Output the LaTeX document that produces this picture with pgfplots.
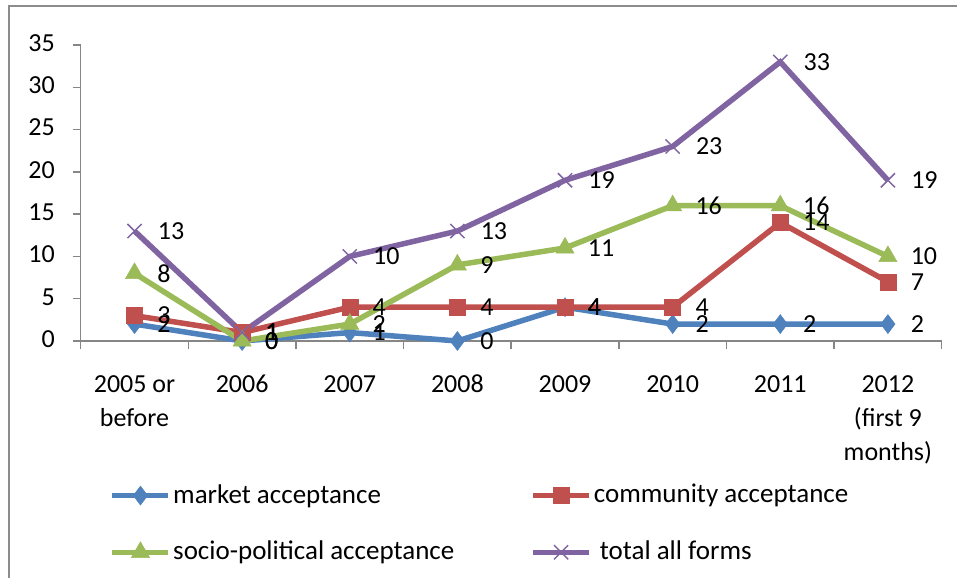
\documentclass[border=0pt]{standalone}
\usepackage{pgfplots}
\pgfplotsset{compat=1.18}
\usepackage{fontspec}
\setmainfont{Carlito}
\definecolor{cblue}{HTML}{4F81BD}
\definecolor{cred}{HTML}{C0504D}
\definecolor{cgreen}{HTML}{9BBB59}
\definecolor{cpurple}{HTML}{8064A2}
\definecolor{axgray}{HTML}{868686}
\definecolor{framegray}{HTML}{8C8C8C}
\newcommand{\cf}{\fontsize{26bp}{32bp}\selectfont}
\newcommand{\cfx}{\fontsize{26bp}{34bp}\selectfont}
\newcommand{\cfl}{\fontsize{27bp}{32bp}\selectfont}
\begin{document}
\cf
\begin{tikzpicture}[x=1bp,y=1bp]
\useasboundingbox (0,0) rectangle (957,578);
\draw[line width=2bp, color=framegray] (9,0) -- (9,572) -- (957,572);
\begin{axis}[
  at={(80.7bp,237bp)}, anchor=south west,
  scale only axis, width=861bp, height=296bp,
  xmin=-0.5, xmax=7.5, ymin=0, ymax=35,
  clip=false,
  axis lines*=left,
  axis line style={color=axgray, line width=1.5bp},
  /pgf/number format/assume math mode=true,
  tick align=outside,
  major tick length=8bp, minor tick length=8bp,
  ytick={0,5,...,35},
  ytick style={color=axgray, line width=1.5bp},
  xtick={0,...,7},
  xticklabels={{2005 or\\before},2006,2007,2008,2009,2010,2011,{2012\\(first 9\\months)}},
  major x tick style={draw=none},
  minor xtick={-0.5,0.5,...,7.5},
  minor x tick style={color=axgray, line width=1.5bp},
  typeset ticklabels with strut,
  xticklabel style={align=center, font=\cfx, text=black, yshift=-11bp},
  yticklabel style={font=\cf, text=black, xshift=-9bp},
  every node near coord/.style={anchor=west, xshift=14bp, font=\cf, text=black},
  nodes near coords,
  legend columns=2,
  legend cell align=left,
  legend style={at={(0.03,-0.47)}, anchor=north west, draw=none, fill=none, font=\cfl,
    /tikz/every even column/.append style={column sep=74bp}, row sep=30bp},
  legend image code/.code={\draw[mark repeat=2,mark phase=2,#1] plot coordinates {(0bp,0bp)(28bp,0bp)(56bp,0bp)};},
]
\addplot[color=cblue, line width=5.5bp, mark=diamond*, mark size=9.5bp, mark options={line width=0.5bp, fill=cblue}]
  coordinates {(0,2)(1,0)(2,1)(3,0)(4,4)(5,2)(6,2)(7,2)};
\addlegendentry{market acceptance}
\addplot[color=cred, line width=5.5bp, mark=square*, mark size=8bp, mark options={line width=0.5bp, fill=cred}]
  coordinates {(0,3)(1,1)(2,4)(3,4)(4,4)(5,4)(6,14)(7,7)};
\addlegendentry{community acceptance}
\addplot[color=cgreen, line width=5.5bp, mark=triangle*, mark size=10.5bp, mark options={line width=0.5bp, fill=cgreen}]
  coordinates {(0,8)(1,0)(2,2)(3,9)(4,11)(5,16)(6,16)(7,10)};
\addlegendentry{socio-political acceptance}
\addplot[color=cpurple, line width=5.5bp, mark=x, mark size=10bp, mark options={line width=1.5bp}]
  coordinates {(0,13)(1,1)(2,10)(3,13)(4,19)(5,23)(6,33)(7,19)};
\addlegendentry{\hspace{6bp}total all forms}
\end{axis}
\end{tikzpicture}
\end{document}
